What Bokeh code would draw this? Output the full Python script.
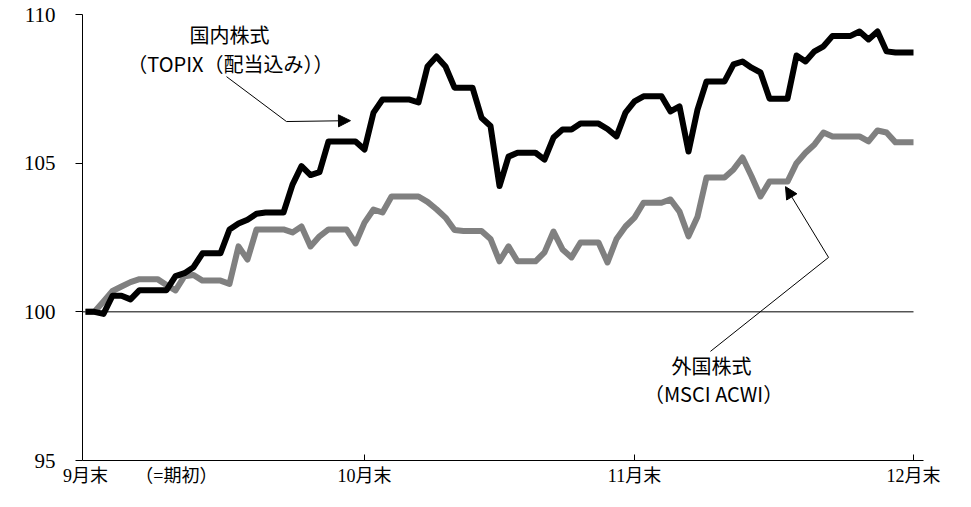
from bokeh.plotting import figure
from bokeh.models import FixedTicker, Label, Arrow, NormalHead, Range1d
from bokeh.embed import file_html
from bokeh.resources import INLINE

# days since 9月末 (Sep 30 = 0 ... Dec 31 = 92)
days = list(range(93))

domestic = [100.0, 100.0, 99.93, 100.54, 100.54, 100.42, 100.73, 100.73, 100.73, 100.73,
            101.2, 101.3, 101.5, 101.97, 101.97, 101.97, 102.77, 102.97, 103.1, 103.3,
            103.34, 103.34, 103.34, 104.28, 104.9, 104.6, 104.7, 105.73, 105.73, 105.73,
            105.73, 105.46, 106.7, 107.14, 107.14, 107.14, 107.14, 107.04, 108.25, 108.59,
            108.25, 107.54, 107.54, 107.54, 106.53, 106.25, 104.23, 105.22, 105.35, 105.35,
            105.35, 105.12, 105.86, 106.13, 106.13, 106.33, 106.33, 106.33, 106.15, 105.9,
            106.7, 107.08, 107.25, 107.25, 107.25, 106.74, 106.91, 105.39, 106.8, 107.75,
            107.75, 107.75, 108.32, 108.42, 108.21, 108.05, 107.17, 107.17, 107.17, 108.62,
            108.42, 108.76, 108.93, 109.28, 109.28, 109.28, 109.43, 109.16, 109.43, 108.76,
            108.72, 108.72, 108.72]

foreign = [100.0, 100.0, 100.35, 100.7, 100.85, 101.0, 101.1, 101.1, 101.1, 100.9,
           100.72, 101.2, 101.24, 101.05, 101.05, 101.05, 100.94, 102.2, 101.76, 102.77,
           102.77, 102.77, 102.77, 102.67, 102.87, 102.2, 102.54, 102.77, 102.77, 102.77,
           102.3, 103.0, 103.44, 103.34, 103.88, 103.88, 103.88, 103.88, 103.7, 103.45,
           103.17, 102.75, 102.72, 102.72, 102.72, 102.45, 101.7, 102.2, 101.7, 101.7,
           101.7, 102.0, 102.7, 102.1, 101.83, 102.33, 102.33, 102.33, 101.66, 102.45,
           102.87, 103.17, 103.67, 103.67, 103.67, 103.78, 103.37, 102.54, 103.2, 104.52,
           104.52, 104.52, 104.79, 105.19, 104.56, 103.88, 104.38, 104.38, 104.38, 105.0,
           105.35, 105.63, 106.03, 105.9, 105.9, 105.9, 105.9, 105.73, 106.1, 106.03,
           105.7, 105.7, 105.7]

tick_days = [0, 31, 61, 92]
tick_labels = ["9月末", "10月末", "11月末", "12月末"]
note_day = 10.1
note_label = "（=期初）"
y_ticks = [95, 100, 105, 110]
base_value = 100

label_dom = ["国内株式", "（TOPIX（配当込み））"]
label_for = ["外国株式", "（MSCI ACWI）"]

# annotation anchor points (data coords)
dom_text_x, dom_text_y = [16.0, 16.1], [109.33, 108.35]
dom_arrow_x, dom_arrow_y = [15.67, 22.33, 29.44], [107.91, 106.40, 106.43]
for_text_x, for_text_y = [69.56, 69.78], [98.19, 97.25]
for_arrow_x, for_arrow_y = [69.44, 82.56, 77.78], [98.67, 101.83, 104.21]

SERIF = "'Liberation Serif', 'Noto Sans CJK JP', serif"
GOTHIC = "'Noto Sans CJK JP', sans-serif"

X0, X1 = -0.333, 93.11
Y0, Y1 = 95, 110

p = figure(frame_width=841, frame_height=446, output_backend="svg", toolbar_location=None,
           x_range=Range1d(X0, X1), y_range=Range1d(Y0, Y1),
           min_border_left=82, min_border_right=38, min_border_top=14, min_border_bottom=38)
p.outline_line_color = None
p.xgrid.visible = False
p.ygrid.visible = False
p.background_fill_color = "white"

# baseline 100
p.line([X0, days[-1]], [base_value, base_value], line_color="black", line_width=1)

p.line(days, foreign, line_color="#808080", line_width=6, line_join="round")
p.line(days, domestic, line_color="black", line_width=6, line_join="round")

# inward month-end tick marks
tick_len = 6 * (Y1 - Y0) / 446
p.segment(x0=tick_days[1:], y0=[Y0] * 3, x1=tick_days[1:], y1=[Y0 + tick_len] * 3,
          line_color="black", line_width=1)

# axes
all_ticks = [tick_days[0], note_day] + tick_days[1:]
overrides = {d: t for d, t in zip(tick_days, tick_labels)}
overrides[note_day] = note_label
p.xaxis.ticker = FixedTicker(ticks=all_ticks)
p.xaxis.major_label_overrides = overrides
p.xaxis.major_tick_in = 0
p.xaxis.major_tick_out = 0
p.xaxis.major_tick_line_color = None
p.xaxis.minor_tick_line_color = None
p.xaxis.major_label_standoff = 5
p.xaxis.major_label_text_font = SERIF
p.xaxis.major_label_text_font_size = "18px"
p.xaxis.major_label_text_color = "black"
p.xaxis.axis_line_color = "black"

p.yaxis.ticker = FixedTicker(ticks=y_ticks)
p.yaxis.major_tick_in = 0
p.yaxis.major_tick_out = 7
p.yaxis.minor_tick_line_color = None
p.yaxis.major_label_standoff = 20
p.yaxis.major_label_text_font = SERIF
p.yaxis.major_label_text_font_size = "21px"
p.yaxis.major_label_text_color = "black"
p.yaxis.axis_line_color = "black"
p.yaxis.major_tick_line_color = "black"

for tx, ty, t in zip(dom_text_x, dom_text_y, label_dom):
    p.add_layout(Label(x=tx, y=ty, text=t, text_align="center", text_baseline="middle",
                       text_font=GOTHIC, text_font_size="20px", text_color="black"))
for tx, ty, t in zip(for_text_x, for_text_y, label_for):
    p.add_layout(Label(x=tx, y=ty, text=t, text_align="center", text_baseline="middle",
                       text_font=GOTHIC, text_font_size="20px", text_color="black"))

# arrows
p.line(dom_arrow_x[:2], dom_arrow_y[:2], line_color="black", line_width=1)
p.add_layout(Arrow(end=NormalHead(size=12, fill_color="black", line_color="black"),
                   x_start=dom_arrow_x[1], y_start=dom_arrow_y[1],
                   x_end=dom_arrow_x[2], y_end=dom_arrow_y[2], line_width=1))
p.line(for_arrow_x[:2], for_arrow_y[:2], line_color="black", line_width=1)
p.add_layout(Arrow(end=NormalHead(size=12, fill_color="black", line_color="black"),
                   x_start=for_arrow_x[1], y_start=for_arrow_y[1],
                   x_end=for_arrow_x[2], y_end=for_arrow_y[2], line_width=1))

open("out.html", "w").write(file_html(p, INLINE))
